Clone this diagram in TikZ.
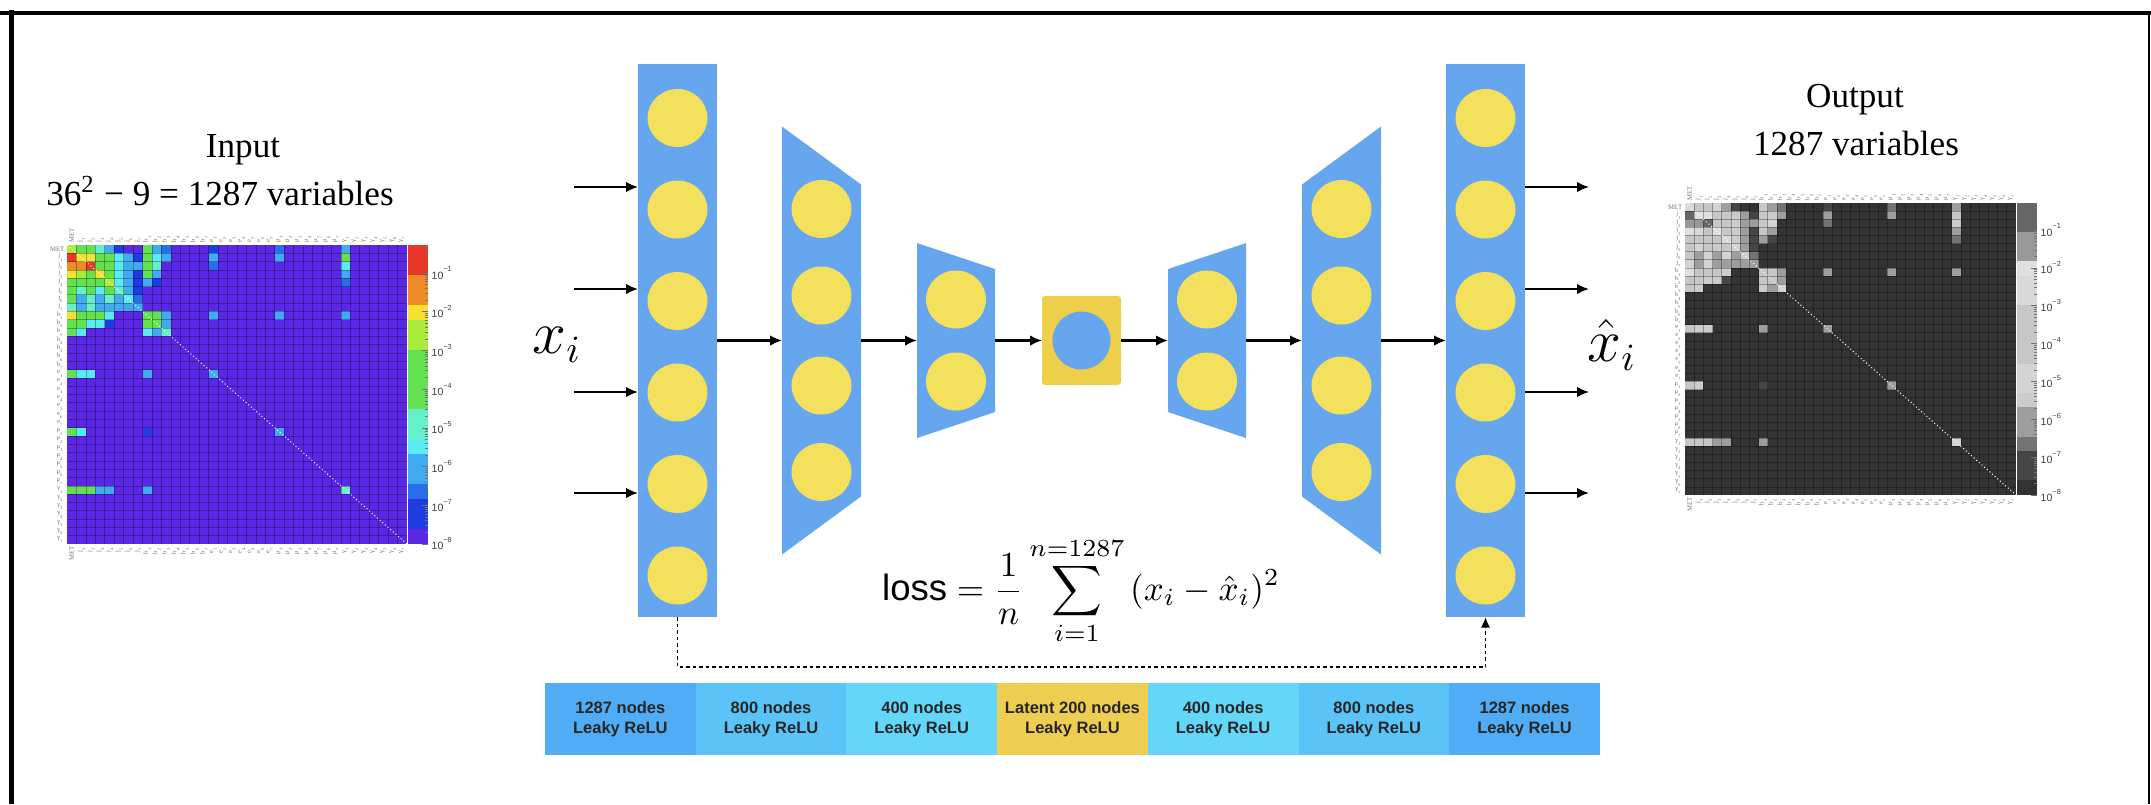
\documentclass[tikz,border=0pt]{standalone}
\usepackage{fontspec}
\setmainfont{Liberation Serif}
\setsansfont{Liberation Sans}
\usetikzlibrary{positioning, arrows.meta}

\definecolor{layerblue}{RGB}{102,166,238}
\definecolor{unityellow}{RGB}{243,224,92}
\definecolor{latentyellow}{RGB}{237,207,74}
\definecolor{boxA}{RGB}{80,172,245}
\definecolor{boxB}{RGB}{90,196,248}
\definecolor{boxC}{RGB}{100,214,248}
\definecolor{boxL}{RGB}{238,206,80}
% rainbow palette (input map)
\definecolor{c0}{RGB}{91,39,230}
\definecolor{c1}{RGB}{30,60,225}
\definecolor{c2}{RGB}{40,110,235}
\definecolor{c3}{RGB}{65,170,240}
\definecolor{c4}{RGB}{90,235,245}
\definecolor{c5}{RGB}{100,240,200}
\definecolor{c6}{RGB}{100,225,80}
\definecolor{c7}{RGB}{170,235,60}
\definecolor{c8}{RGB}{245,225,50}
\definecolor{c9}{RGB}{240,140,40}
\definecolor{c10}{RGB}{230,55,40}
% grey palette (output map)
\definecolor{g0}{gray}{0.20}
\definecolor{g1}{gray}{0.27}
\definecolor{g2}{gray}{0.45}
\definecolor{g3}{gray}{0.62}
\definecolor{g4}{gray}{0.80}
\definecolor{g5}{gray}{0.83}
\definecolor{g6}{gray}{0.78}
\definecolor{g7}{gray}{0.85}
\definecolor{g8}{gray}{0.88}
\definecolor{g9}{gray}{0.60}
\definecolor{g10}{gray}{0.40}

\begin{document}
\begin{tikzpicture}[
    x=0.1mm, y=-0.1mm,
    layer/.style={fill=layerblue},
    layer col/.style={fill=layerblue, rectangle, minimum width=7.9mm,
        inner sep=0pt, outer sep=0pt},
    unit/.style={fill=unityellow},
    flow/.style={-{Latex[length=3.4pt,width=3pt]}, line width=0.6pt, draw=black},
    feedback/.style={-{Latex[length=3pt,width=2.6pt]}, line width=0.55pt,
        dash pattern=on 0.35mm off 0.3mm},
    layer box/.style={fill=#1, rectangle, minimum width=15.07mm, minimum height=7.2mm,
        inner sep=0pt, outer sep=0pt, align=center, text=black!85,
        font=\fontsize{4.7}{5.7}\selectfont\sffamily\bfseries},
    head/.style={font=\fontsize{10}{12}\selectfont, anchor=base, inner sep=0pt},
    axlab/.style={font=\fontsize{1.9}{1.9}\selectfont, text=black!55, inner sep=0pt},
    barlab/.style={font=\fontsize{3}{3}\selectfont\sffamily, text=black!75, inner sep=0pt},
    gridline/.style={draw=black, opacity=0.3, line width=0.07mm},
    diagline/.style={draw=white, line width=0.1mm, dash pattern=on 0.1mm off 0.25mm},
    bartick/.style={draw=black!55, line width=0.05mm},
    node distance=0pt
]

% Non-zero cells of the maps (row/col/level)
\def\cells{0/0/7,0/1/6,0/2/6,0/3/5,0/4/3,0/5/1,0/8/6,0/9/3,0/10/2,0/15/1,0/22/2,0/29/3,%
1/0/10,1/1/8,1/2/8,1/3/6,1/4/6,1/5/4,1/6/3,1/7/1,1/8/6,1/9/4,1/10/3,1/15/3,1/22/3,1/29/6,%
2/0/9,2/1/9,2/2/10,2/3/6,2/4/6,2/5/4,2/6/3,2/7/3,2/8/6,2/9/5,2/15/2,2/29/4,%
3/0/8,3/1/7,3/2/6,3/3/8,3/4/6,3/5/4,3/6/3,3/7/1,3/8/6,3/9/3,3/29/3,%
4/0/6,4/1/6,4/2/6,4/3/6,4/4/7,4/5/4,4/6/3,4/7/1,4/8/3,4/9/1,4/29/2,%
5/0/6,5/1/5,5/2/6,5/3/4,5/4/6,5/5/5,5/6/3,5/7/1,%
6/0/6,6/1/3,6/2/5,6/3/3,6/4/5,6/5/3,6/6/4,6/7/2,%
7/0/5,7/1/3,7/2/5,7/3/3,7/4/3,7/5/3,7/6/3,7/7/3,%
8/0/8,8/1/6,8/2/6,8/3/6,8/4/4,8/8/6,8/9/6,8/10/3,8/15/3,8/22/3,8/29/3,%
9/0/6,9/1/6,9/2/4,9/3/4,9/4/1,9/8/6,9/9/6,9/10/3,%
10/0/6,10/1/4,10/8/4,10/9/3,10/10/5,%
15/0/6,15/1/4,15/2/4,15/8/3,15/15/3,%
22/0/6,22/1/4,22/8/1,22/22/3,%
29/0/6,29/1/6,29/2/6,29/3/3,29/4/3,29/8/3,29/29/5}
\def\axlabels{MET,j\textsubscript{1},j\textsubscript{2},j\textsubscript{3},j\textsubscript{4},%
j\textsubscript{5},j\textsubscript{6},j\textsubscript{7},b\textsubscript{1},b\textsubscript{2},%
b\textsubscript{3},b\textsubscript{4},b\textsubscript{5},b\textsubscript{6},b\textsubscript{7},%
e\textsubscript{1},e\textsubscript{2},e\textsubscript{3},e\textsubscript{4},e\textsubscript{5},%
e\textsubscript{6},e\textsubscript{7},μ\textsubscript{1},μ\textsubscript{2},μ\textsubscript{3},%
μ\textsubscript{4},μ\textsubscript{5},μ\textsubscript{6},μ\textsubscript{7},γ\textsubscript{1},%
γ\textsubscript{2},γ\textsubscript{3},γ\textsubscript{4},γ\textsubscript{5},γ\textsubscript{6},%
γ\textsubscript{7}}

\useasboundingbox (0,0) rectangle (2151,804);

% ------------------------------------------------------------------------------
% 0. FRAME
% ------------------------------------------------------------------------------
\draw[line width=0.45mm] (0,13) -- (2151,13);
\draw[line width=0.5mm] (11.5,10) -- (11.5,804);
\draw[line width=0.2mm] (2149,13) -- (2149,804);

% ------------------------------------------------------------------------------
% 1. INPUT / OUTPUT MAPS
% ------------------------------------------------------------------------------
\node[head] (inhead) at (243,157) {Input};
\node[head] (inhead2) at (220,205) {36\textsuperscript{2} − 9 = 1287 variables};
\node[head] (outhead) at (1855,107) {Output};
\node[head] (outhead2) at (1856,155) {1287 variables};

\foreach \mapn/\xo/\yo/\mw/\mh/\pal/\yone/\dsp in {hin/67/245/340/299/c/273/38.7,
                                                  hout/1685/203/331/292/g/230/37.86} {
    % cells
    \fill[fill=\pal0] (\xo,\yo) rectangle ++(\mw,\mh);
    \foreach \ri/\ci/\vi in \cells {
        \fill[fill=\pal\vi] ({\xo+\ci*\mw/36},{\yo+\ri*\mh/36}) rectangle ++({\mw/36},{\mh/36});
    }
    \foreach \k in {1,...,35} {
        \draw[gridline] ({\xo+\k*\mw/36},\yo) -- ++(0,\mh);
        \draw[gridline] (\xo,{\yo+\k*\mh/36}) -- ++(\mw,0);
    }
    \draw[diagline] (\xo,\yo) -- ++(\mw,\mh);
    % axis labels
    \foreach \lab [count=\k from 0] in \axlabels {
        \node[axlab, anchor=east] (\mapn-r\k) at ({\xo-2},{\yo+(\k+0.5)*\mh/36}) {\lab};
        \node[axlab, rotate=90, anchor=west] (\mapn-t\k) at ({\xo+(\k+0.5)*\mw/36},{\yo-2}) {\lab};
        \node[axlab, rotate=90, anchor=east] (\mapn-b\k) at ({\xo+(\k+0.5)*\mw/36},{\yo+\mh+2}) {\lab};
    }
    % colour bar
    \foreach \lv [count=\bn from 0] in {10,10,9,9,8,7,7,6,6,6,6,5,5,4,3,3,2,1,1,0} {
        \fill[fill=\pal\lv] ({\xo+\mw+1},{\yo+\bn*\mh/20}) rectangle ++(20,{\mh/20});
    }
    \begin{scope}
        \clip ({\xo+\mw+1},\yo) rectangle ++(20,\mh);
        \foreach \dd in {1,...,8} {
            \draw[bartick] ({\xo+\mw+21},{\yone+(\dd-1)*\dsp}) -- ++(-6,0);
            \foreach \m in {2,...,9}
                \draw[bartick] ({\xo+\mw+21},{\yone+(\dd-1)*\dsp-log10(\m)*\dsp}) -- ++(-3,0);
        }
    \end{scope}
    \foreach \dd in {1,...,8}
        \node[barlab, anchor=west] (\mapn-l\dd) at ({\xo+\mw+24},{\yone+(\dd-1)*\dsp}) {10\textsuperscript{−\dd}};
}

% ------------------------------------------------------------------------------
% 2. LAYERS
% ------------------------------------------------------------------------------
\node[layer col, minimum height=55.3mm] (inl) at (677.5,340.5) {};
\node[layer col, minimum height=55.3mm] (outl) at (1485.5,340.5) {};
\foreach \k in {0,...,5} {
    \fill[unit] (677.5,{118+91.5*\k}) ellipse [x radius=3mm, y radius=2.9mm];
    \fill[unit] (1485.5,{118+91.5*\k}) ellipse [x radius=3mm, y radius=2.9mm];
}

\foreach \nm/\xl/\xr/\hl/\hr in {enc1/782/861/214/156, enc2/917/995/97.5/71.5,
                                 dec2/1168/1246/71.5/97.5, dec1/1302/1381/156/214} {
    \fill[layer] (\xl,{340.5-\hl}) -- (\xr,{340.5-\hr}) -- (\xr,{340.5+\hr})
        -- (\xl,{340.5+\hl}) -- cycle;
    \coordinate (\nm-w) at (\xl,340.5);
    \coordinate (\nm-e) at (\xr,340.5);
}
\foreach \yy in {209,295.5,385.5,472} {
    \fill[unit] (821.5,\yy) ellipse [x radius=3mm, y radius=2.9mm];
    \fill[unit] (1341.5,\yy) ellipse [x radius=3mm, y radius=2.9mm];
}
\foreach \yy in {299.5,381.5} {
    \fill[unit] (956,\yy) ellipse [x radius=3mm, y radius=2.9mm];
    \fill[unit] (1207,\yy) ellipse [x radius=3mm, y radius=2.9mm];
}

% Latent space
\node[fill=latentyellow, minimum width=7.9mm, minimum height=8.9mm, inner sep=0pt,
      outer sep=0pt, rounded corners=0.3mm] (lat) at (1081.5,340.5) {};
\fill[layer] (lat.center) ellipse [x radius=2.9mm, y radius=2.9mm];

% ------------------------------------------------------------------------------
% 3. CONNECTIONS
% ------------------------------------------------------------------------------
\draw[flow] (inl.east) -- (enc1-w);
\draw[flow] (enc1-e) -- (enc2-w);
\draw[flow] (enc2-e) -- (lat.west);
\draw[flow] (lat.east) -- (dec2-w);
\draw[flow] (dec2-e) -- (dec1-w);
\draw[flow] (dec1-e) -- (outl.west);

\foreach \yy [count=\k] in {187,289,392,493} {
    \coordinate (src\k) at (574,\yy);
    \coordinate (dst\k) at (1589,\yy);
    \draw[flow] (src\k) -- (src\k -| inl.west);
    \draw[flow] (dst\k -| outl.east) -- (dst\k);
}

\node (xin) at (557,345) {\fontsize{16}{16}\selectfont $x_i$};
\node (xout) at (1612,345) {\fontsize{16}{16}\selectfont $\hat{x}_i$};

% Loss and feedback path
\node[anchor=base, inner sep=0pt, font=\fontsize{10.4}{12}\selectfont] (loss) at (1081,600)
    {$\textsf{loss} = \displaystyle\frac{1}{n}\sum\limits_{i=1}^{n=1287}\,(x_i-\hat{x}_i)^2$};
\draw[feedback] (inl.south) -- ++(0,50) -| (outl.south);

% ------------------------------------------------------------------------------
% 4. LAYER TABLE
% ------------------------------------------------------------------------------
\node[layer box=boxA] (t1) at (620.35,719) {1287 nodes\\Leaky ReLU};
\node[layer box=boxB, right=of t1] (t2) {800 nodes\\Leaky ReLU};
\node[layer box=boxC, right=of t2] (t3) {400 nodes\\Leaky ReLU};
\node[layer box=boxL, right=of t3] (t4) {Latent 200 nodes\\Leaky ReLU};
\node[layer box=boxC, right=of t4] (t5) {400 nodes\\Leaky ReLU};
\node[layer box=boxB, right=of t5] (t6) {800 nodes\\Leaky ReLU};
\node[layer box=boxA, right=of t6] (t7) {1287 nodes\\Leaky ReLU};

\end{tikzpicture}
\end{document}
